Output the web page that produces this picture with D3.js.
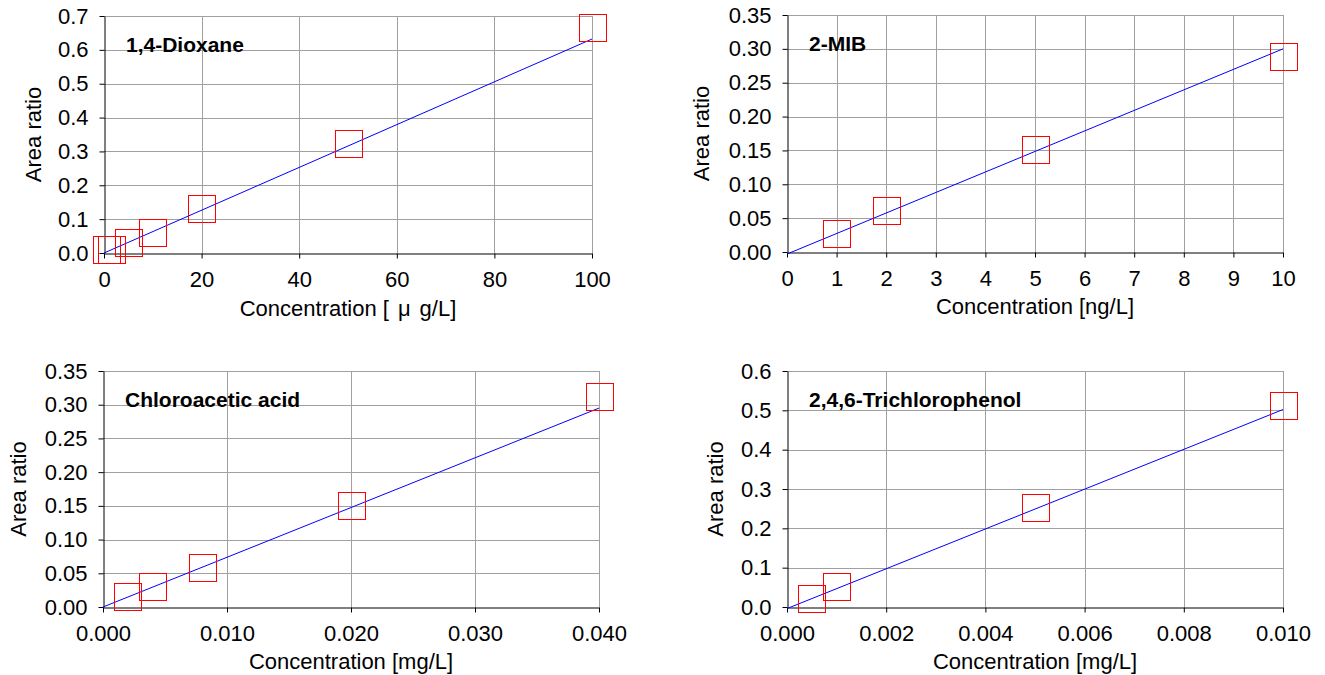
<!DOCTYPE html>
<html>
<head>
<meta charset="utf-8">
<script src="https://cdn.jsdelivr.net/npm/d3@7"></script>
<style>
  body { margin: 0; background: #fff; }
  svg text { font-family: "Liberation Sans", Arial, sans-serif; fill: #000; }
</style>
</head>
<body>
<svg id="chart" width="1325" height="675"></svg>
<script>
// 1,4-Dioxane calibration
const dioxaneConc = [0.5, 1.5, 5, 10, 20, 50, 100];
const dioxaneRatio = [0.009, 0.010, 0.031, 0.060, 0.131, 0.323, 0.665];
const dioxaneFit = [0.000, 0.632];            // fitted line at both ends of x axis
const dioxaneXTicks = [0, 20, 40, 60, 80, 100];
const dioxaneYTicks = [0, 0.1, 0.2, 0.3, 0.4, 0.5, 0.6, 0.7];

// 2-MIB calibration
const mibConc = [1, 2, 5, 10];
const mibRatio = [0.027, 0.062, 0.152, 0.288];
const mibFit = [-0.003, 0.300];
const mibXTicks = [0, 1, 2, 3, 4, 5, 6, 7, 8, 9, 10];
const mibYTicks = [0, 0.05, 0.10, 0.15, 0.20, 0.25, 0.30, 0.35];

// Chloroacetic acid calibration
const chloroConc = [0.002, 0.004, 0.008, 0.020, 0.040];
const chloroRatio = [0.016, 0.030, 0.058, 0.151, 0.312];
const chloroFit = [0.000, 0.295];
const chloroXTicks = [0, 0.010, 0.020, 0.030, 0.040];
const chloroYTicks = [0, 0.05, 0.10, 0.15, 0.20, 0.25, 0.30, 0.35];

// 2,4,6-Trichlorophenol calibration
const tcpConc = [0.0005, 0.001, 0.005, 0.010];
const tcpRatio = [0.022, 0.052, 0.254, 0.512];
const tcpFit = [-0.004, 0.502];
const tcpXTicks = [0, 0.002, 0.004, 0.006, 0.008, 0.010];
const tcpYTicks = [0, 0.1, 0.2, 0.3, 0.4, 0.5, 0.6];

// axis title pieces (the μ sits in its own full-width slot)
const xUnitParts = {
  ug: ["Concentration [", "μ", "g/L]"],
  ng: ["Concentration [ng/L]"],
  mg: ["Concentration [mg/L]"]
};

// panel setup (plot area box in pixels)
const panels = [
  { title: "1,4-Dioxane", xLabel: xUnitParts.ug,
    conc: dioxaneConc, ratio: dioxaneRatio, fit: dioxaneFit,
    xTicks: dioxaneXTicks, yTicks: dioxaneYTicks,
    xFmt: d3.format("d"), yFmt: d3.format(".1f"),
    box: { l: 104, r: 592, t: 16, b: 253 }, yTitleX: 33, xTitleY: 308 },
  { title: "2-MIB", xLabel: xUnitParts.ng,
    conc: mibConc, ratio: mibRatio, fit: mibFit,
    xTicks: mibXTicks, yTicks: mibYTicks,
    xFmt: d3.format("d"), yFmt: d3.format(".2f"),
    box: { l: 787, r: 1283, t: 15, b: 252 }, yTitleX: 701, xTitleY: 306 },
  { title: "Chloroacetic acid", xLabel: xUnitParts.mg,
    conc: chloroConc, ratio: chloroRatio, fit: chloroFit,
    xTicks: chloroXTicks, yTicks: chloroYTicks,
    xFmt: d3.format(".3f"), yFmt: d3.format(".2f"),
    box: { l: 103, r: 599, t: 371, b: 607 }, yTitleX: 18, xTitleY: 661 },
  { title: "2,4,6-Trichlorophenol", xLabel: xUnitParts.mg,
    conc: tcpConc, ratio: tcpRatio, fit: tcpFit,
    xTicks: tcpXTicks, yTicks: tcpYTicks,
    xFmt: d3.format(".3f"), yFmt: d3.format(".1f"),
    box: { l: 787, r: 1283, t: 371, b: 607 }, yTitleX: 715, xTitleY: 661 }
];

const svg = d3.select("#chart");
const boxSize = 27; // marker square size

panels.forEach(p => {
  const x = d3.scaleLinear()
      .domain([p.xTicks[0], p.xTicks[p.xTicks.length - 1]])
      .range([p.box.l, p.box.r]);
  const y = d3.scaleLinear()
      .domain([p.yTicks[0], p.yTicks[p.yTicks.length - 1]])
      .range([p.box.b, p.box.t]);

  const g = svg.append("g");

  // gridlines
  g.selectAll(".hgrid")
      .data(p.yTicks.slice(1))
      .enter().append("line")
      .attr("x1", p.box.l).attr("x2", p.box.r)
      .attr("y1", d => Math.round(y(d)) + 0.5)
      .attr("y2", d => Math.round(y(d)) + 0.5)
      .attr("stroke", "#a0a0a0")
      .attr("shape-rendering", "crispEdges");
  g.selectAll(".vgrid")
      .data(p.xTicks.slice(1))
      .enter().append("line")
      .attr("y1", p.box.t).attr("y2", p.box.b)
      .attr("x1", d => Math.round(x(d)) + 0.5)
      .attr("x2", d => Math.round(x(d)) + 0.5)
      .attr("stroke", "#a0a0a0")
      .attr("shape-rendering", "crispEdges");

  // axes
  const xAxis = g.append("g")
      .attr("transform", `translate(0,${p.box.b + 0.5})`)
      .call(d3.axisBottom(x).tickValues(p.xTicks).tickFormat(p.xFmt)
            .tickSizeInner(5).tickSizeOuter(0).tickPadding(13));
  const yAxis = g.append("g")
      .attr("transform", `translate(${p.box.l + 0.5},0)`)
      .call(d3.axisLeft(y).tickValues(p.yTicks).tickFormat(p.yFmt)
            .tickSizeInner(5).tickSizeOuter(0).tickPadding(11));
  [xAxis, yAxis].forEach(a => {
    a.select(".domain").attr("stroke", "#000");
    a.selectAll(".tick line").attr("stroke", "#000");
    a.selectAll(".tick text").style("font-size", "22px");
  });

  // fitted line
  const xd = x.domain();
  g.append("line")
      .attr("x1", x(xd[0])).attr("y1", y(p.fit[0]))
      .attr("x2", x(xd[1])).attr("y2", y(p.fit[1]))
      .attr("stroke", "#0000ff").attr("stroke-width", 1);

  // data markers (open squares)
  g.selectAll(".pt")
      .data(p.conc.map((c, i) => ({ c: c, r: p.ratio[i] })))
      .enter().append("rect")
      .attr("x", d => Math.round(x(d.c) - boxSize / 2) + 0.5)
      .attr("y", d => Math.round(y(d.r) - boxSize / 2) + 0.5)
      .attr("width", boxSize).attr("height", boxSize)
      .attr("fill", "none")
      .attr("stroke", "#ff0000")
      .attr("shape-rendering", "crispEdges");

  // compound name
  g.append("text")
      .attr("x", p.box.l + 22)
      .attr("y", p.box.t + 36)
      .style("font-size", "21px")
      .style("font-weight", "bold")
      .text(p.title);

  // axis titles
  g.append("text")
      .attr("transform", `translate(${p.yTitleX},${(p.box.t + p.box.b) / 2}) rotate(-90)`)
      .attr("text-anchor", "middle")
      .attr("dominant-baseline", "central")
      .style("font-size", "22px")
      .text("Area ratio");
  const xt = g.append("text")
      .attr("x", (p.box.l + p.box.r) / 2)
      .attr("y", p.xTitleY)
      .attr("text-anchor", "middle")
      .attr("dominant-baseline", "central")
      .style("font-size", "22px");
  p.xLabel.forEach((part, i) => {
    xt.append("tspan")
      .attr("dx", i > 0 ? 9 : 0)
      .text(part);
  });
});
</script>
</body>
</html>
